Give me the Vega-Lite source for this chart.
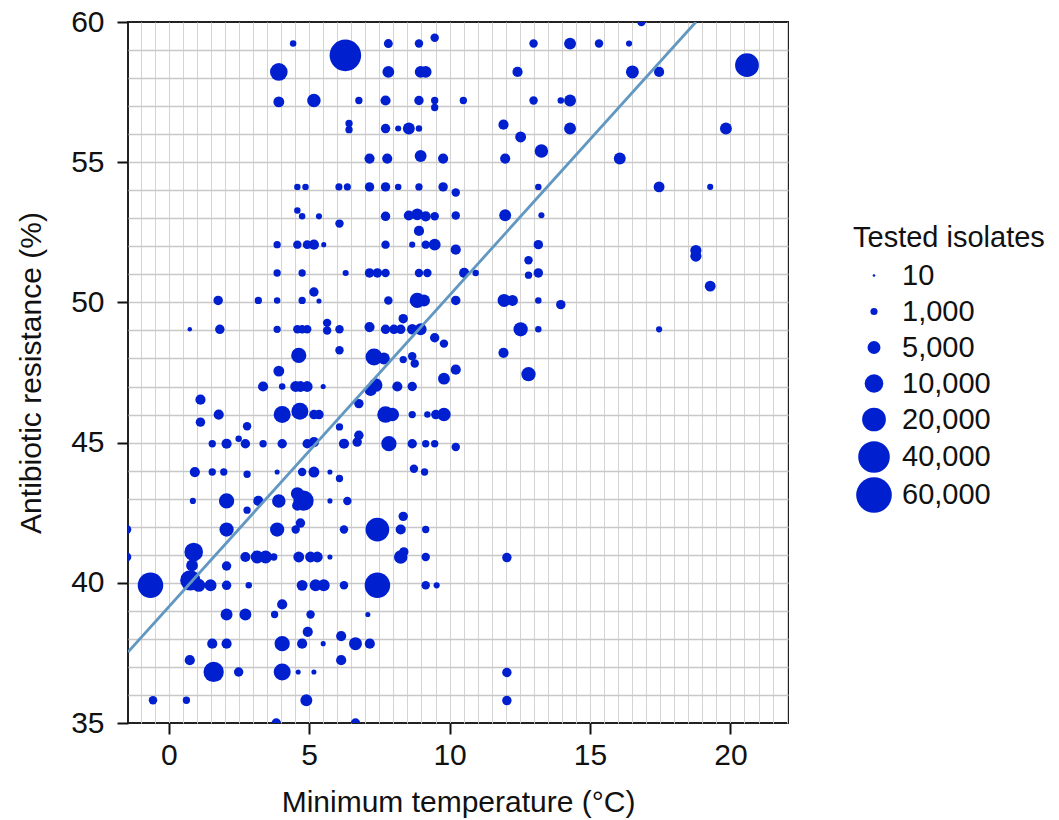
{
  "$schema": "https://vega.github.io/schema/vega-lite/v6.json",
  "width": 660,
  "height": 701,
  "autosize": {"type": "none"},
  "padding": {"left": 128, "top": 22, "right": 271, "bottom": 97},
  "background": "white",
  "config": {
    "font": "Liberation Sans",
    "view": {"stroke": "#222222", "strokeWidth": 2}
  },
  "datasets": {
    "fit": [
      {"temp": -1.45, "resist": 37.53},
      {"temp": 18.77, "resist": 60.0}
    ],
    "pts": [
      {"temp": 4.43, "resist": 59.23, "isolates": 800},
      {"temp": 6.29, "resist": 58.81, "isolates": 40000},
      {"temp": 7.82, "resist": 59.23, "isolates": 2000},
      {"temp": 8.91, "resist": 59.23, "isolates": 1700},
      {"temp": 9.47, "resist": 59.44, "isolates": 1700},
      {"temp": 3.92, "resist": 58.22, "isolates": 9000},
      {"temp": 7.82, "resist": 58.22, "isolates": 4000},
      {"temp": 8.97, "resist": 58.22, "isolates": 4000},
      {"temp": 9.15, "resist": 58.22, "isolates": 4000},
      {"temp": 3.92, "resist": 57.15, "isolates": 3300},
      {"temp": 5.17, "resist": 57.2, "isolates": 5400},
      {"temp": 6.77, "resist": 57.2, "isolates": 1100},
      {"temp": 7.72, "resist": 57.2, "isolates": 2800},
      {"temp": 8.91, "resist": 57.2, "isolates": 2300},
      {"temp": 9.47, "resist": 57.2, "isolates": 1100},
      {"temp": 9.47, "resist": 56.95, "isolates": 1100},
      {"temp": 10.49, "resist": 57.2, "isolates": 1100},
      {"temp": 6.42, "resist": 56.38, "isolates": 1100},
      {"temp": 6.42, "resist": 56.16, "isolates": 1100},
      {"temp": 7.72, "resist": 56.2, "isolates": 2300},
      {"temp": 8.17, "resist": 56.2, "isolates": 700},
      {"temp": 8.55, "resist": 56.2, "isolates": 4100},
      {"temp": 8.91, "resist": 56.2, "isolates": 800},
      {"temp": 7.15, "resist": 55.13, "isolates": 2800},
      {"temp": 7.78, "resist": 55.13, "isolates": 2800},
      {"temp": 8.97, "resist": 55.22, "isolates": 4100},
      {"temp": 9.77, "resist": 55.13, "isolates": 2800},
      {"temp": 4.58, "resist": 54.12, "isolates": 800},
      {"temp": 4.87, "resist": 54.12, "isolates": 800},
      {"temp": 6.06, "resist": 54.12, "isolates": 1000},
      {"temp": 6.36, "resist": 54.12, "isolates": 1000},
      {"temp": 7.15, "resist": 54.12, "isolates": 2300},
      {"temp": 7.72, "resist": 54.12, "isolates": 2300},
      {"temp": 8.17, "resist": 54.12, "isolates": 800},
      {"temp": 8.91, "resist": 54.12, "isolates": 1100},
      {"temp": 9.77, "resist": 54.12, "isolates": 2300},
      {"temp": 10.22, "resist": 53.92, "isolates": 1700},
      {"temp": 4.58, "resist": 53.28, "isolates": 800},
      {"temp": 4.75, "resist": 53.07, "isolates": 800},
      {"temp": 5.35, "resist": 53.07, "isolates": 700},
      {"temp": 6.08, "resist": 52.81, "isolates": 1700},
      {"temp": 7.72, "resist": 53.07, "isolates": 2300},
      {"temp": 8.55, "resist": 53.1, "isolates": 2800},
      {"temp": 8.85, "resist": 53.14, "isolates": 4100},
      {"temp": 9.15, "resist": 53.07, "isolates": 2800},
      {"temp": 9.47, "resist": 53.07, "isolates": 1700},
      {"temp": 8.91, "resist": 52.55, "isolates": 2800},
      {"temp": 10.22, "resist": 53.1, "isolates": 1700},
      {"temp": 3.86, "resist": 52.06, "isolates": 1100},
      {"temp": 4.58, "resist": 52.06, "isolates": 1700},
      {"temp": 4.93, "resist": 52.06, "isolates": 2000},
      {"temp": 5.17, "resist": 52.06, "isolates": 2800},
      {"temp": 5.52, "resist": 52.06, "isolates": 440},
      {"temp": 7.72, "resist": 52.06, "isolates": 1700},
      {"temp": 8.67, "resist": 52.06, "isolates": 700},
      {"temp": 9.15, "resist": 52.06, "isolates": 1700},
      {"temp": 9.47, "resist": 52.06, "isolates": 4100},
      {"temp": 10.22, "resist": 51.88, "isolates": 2800},
      {"temp": 16.83, "resist": 60.0, "isolates": 1700},
      {"temp": 12.99, "resist": 59.23, "isolates": 1700},
      {"temp": 14.29, "resist": 59.23, "isolates": 4100},
      {"temp": 15.32, "resist": 59.23, "isolates": 1700},
      {"temp": 16.39, "resist": 59.23, "isolates": 700},
      {"temp": 20.59, "resist": 58.46, "isolates": 20000},
      {"temp": 12.42, "resist": 58.22, "isolates": 2800},
      {"temp": 16.51, "resist": 58.22, "isolates": 5000},
      {"temp": 17.46, "resist": 58.22, "isolates": 2800},
      {"temp": 12.99, "resist": 57.2, "isolates": 1700},
      {"temp": 13.96, "resist": 57.2, "isolates": 800},
      {"temp": 14.29, "resist": 57.2, "isolates": 4100},
      {"temp": 11.92, "resist": 56.34, "isolates": 2800},
      {"temp": 12.53, "resist": 55.9, "isolates": 3300},
      {"temp": 14.29, "resist": 56.2, "isolates": 4100},
      {"temp": 19.84, "resist": 56.2, "isolates": 4100},
      {"temp": 13.27, "resist": 55.4, "isolates": 5400},
      {"temp": 11.98, "resist": 55.13, "isolates": 2800},
      {"temp": 16.06, "resist": 55.13, "isolates": 4100},
      {"temp": 13.16, "resist": 54.12, "isolates": 800},
      {"temp": 17.46, "resist": 54.12, "isolates": 3300},
      {"temp": 19.28, "resist": 54.12, "isolates": 700},
      {"temp": 11.98, "resist": 53.11, "isolates": 4100},
      {"temp": 13.27, "resist": 53.11, "isolates": 700},
      {"temp": 13.16, "resist": 52.06, "isolates": 2300},
      {"temp": 12.81, "resist": 51.5, "isolates": 1700},
      {"temp": 18.77, "resist": 51.85, "isolates": 3500},
      {"temp": 18.77, "resist": 51.65, "isolates": 3500},
      {"temp": 10.52, "resist": 51.05, "isolates": 2800},
      {"temp": 10.93, "resist": 51.05, "isolates": 800},
      {"temp": 12.81, "resist": 50.97, "isolates": 1100},
      {"temp": 13.16, "resist": 51.05, "isolates": 2300},
      {"temp": 10.22, "resist": 50.07, "isolates": 2300},
      {"temp": 11.94, "resist": 50.07, "isolates": 5000},
      {"temp": 12.24, "resist": 50.07, "isolates": 3300},
      {"temp": 13.16, "resist": 50.07, "isolates": 800},
      {"temp": 13.96, "resist": 49.92, "isolates": 2300},
      {"temp": 19.28, "resist": 50.58, "isolates": 3300},
      {"temp": 12.53, "resist": 49.04, "isolates": 6000},
      {"temp": 13.16, "resist": 49.04, "isolates": 800},
      {"temp": 17.46, "resist": 49.04, "isolates": 700},
      {"temp": 11.92, "resist": 48.2, "isolates": 2800},
      {"temp": 10.22, "resist": 47.6, "isolates": 2800},
      {"temp": 12.81, "resist": 47.44, "isolates": 6000},
      {"temp": 9.8, "resist": 47.28, "isolates": 4100},
      {"temp": 9.8, "resist": 46.0, "isolates": 5400},
      {"temp": 10.22, "resist": 44.84, "isolates": 1700},
      {"temp": 3.86, "resist": 51.05, "isolates": 1100},
      {"temp": 4.75, "resist": 51.05, "isolates": 1100},
      {"temp": 6.3, "resist": 51.05, "isolates": 700},
      {"temp": 7.15, "resist": 51.05, "isolates": 2300},
      {"temp": 7.43, "resist": 51.05, "isolates": 2300},
      {"temp": 7.72, "resist": 51.05, "isolates": 1700},
      {"temp": 8.91, "resist": 51.05, "isolates": 1700},
      {"temp": 9.21, "resist": 51.05, "isolates": 1700},
      {"temp": 1.76, "resist": 50.07, "isolates": 2300},
      {"temp": 3.19, "resist": 50.07, "isolates": 1100},
      {"temp": 3.86, "resist": 50.07, "isolates": 800},
      {"temp": 4.75, "resist": 50.07, "isolates": 1100},
      {"temp": 5.17, "resist": 50.37, "isolates": 2300},
      {"temp": 5.35, "resist": 50.05, "isolates": 440},
      {"temp": 7.82, "resist": 50.07, "isolates": 1700},
      {"temp": 8.85, "resist": 50.07, "isolates": 6800},
      {"temp": 9.09, "resist": 50.07, "isolates": 4100},
      {"temp": 0.75, "resist": 49.04, "isolates": 300},
      {"temp": 1.82, "resist": 49.04, "isolates": 2300},
      {"temp": 3.86, "resist": 49.04, "isolates": 1100},
      {"temp": 4.58, "resist": 49.04, "isolates": 1700},
      {"temp": 4.75, "resist": 49.04, "isolates": 1700},
      {"temp": 4.93, "resist": 49.04, "isolates": 1700},
      {"temp": 5.64, "resist": 49.27, "isolates": 1700},
      {"temp": 5.64, "resist": 49.0, "isolates": 1700},
      {"temp": 6.08, "resist": 49.04, "isolates": 1700},
      {"temp": 7.15, "resist": 49.12, "isolates": 2800},
      {"temp": 7.72, "resist": 49.04, "isolates": 2300},
      {"temp": 8.02, "resist": 49.04, "isolates": 2300},
      {"temp": 8.26, "resist": 49.04, "isolates": 2300},
      {"temp": 8.35, "resist": 49.42, "isolates": 2300},
      {"temp": 8.67, "resist": 49.04, "isolates": 3000},
      {"temp": 8.97, "resist": 49.04, "isolates": 4100},
      {"temp": 9.47, "resist": 48.74, "isolates": 2300},
      {"temp": 9.8, "resist": 48.53, "isolates": 1700},
      {"temp": 4.63, "resist": 48.11, "isolates": 6800},
      {"temp": 6.08, "resist": 48.29, "isolates": 1700},
      {"temp": 7.31, "resist": 48.05, "isolates": 8400},
      {"temp": 7.66, "resist": 48.0, "isolates": 4100},
      {"temp": 8.35, "resist": 47.96, "isolates": 1100},
      {"temp": 8.67, "resist": 48.08, "isolates": 1700},
      {"temp": 8.76, "resist": 47.82, "isolates": 1700},
      {"temp": 3.92, "resist": 47.55, "isolates": 3300},
      {"temp": 3.36, "resist": 47.0, "isolates": 2800},
      {"temp": 4.04, "resist": 47.0, "isolates": 800},
      {"temp": 4.52, "resist": 47.0, "isolates": 3300},
      {"temp": 4.69, "resist": 47.0, "isolates": 3300},
      {"temp": 4.93, "resist": 47.0, "isolates": 3300},
      {"temp": 5.5, "resist": 47.0, "isolates": 440},
      {"temp": 7.19, "resist": 46.87, "isolates": 4100},
      {"temp": 7.37, "resist": 47.05, "isolates": 5400},
      {"temp": 8.14, "resist": 47.0, "isolates": 2800},
      {"temp": 8.67, "resist": 47.0, "isolates": 2300},
      {"temp": 6.77, "resist": 46.39, "isolates": 2300},
      {"temp": 1.13, "resist": 46.53, "isolates": 2800},
      {"temp": 1.13, "resist": 45.73, "isolates": 2300},
      {"temp": 1.78, "resist": 46.0, "isolates": 2800},
      {"temp": 4.04, "resist": 46.0, "isolates": 8400},
      {"temp": 4.67, "resist": 46.12, "isolates": 8400},
      {"temp": 5.17, "resist": 46.0, "isolates": 2300},
      {"temp": 5.35, "resist": 46.0, "isolates": 2300},
      {"temp": 7.72, "resist": 46.0, "isolates": 8000},
      {"temp": 7.96, "resist": 46.0, "isolates": 5400},
      {"temp": 8.67, "resist": 46.0, "isolates": 1100},
      {"temp": 9.21, "resist": 46.0, "isolates": 800},
      {"temp": 9.51, "resist": 46.0, "isolates": 2300},
      {"temp": 2.79, "resist": 45.58, "isolates": 1700},
      {"temp": 6.08, "resist": 45.56, "isolates": 1100},
      {"temp": 1.55, "resist": 44.96, "isolates": 1100},
      {"temp": 2.06, "resist": 44.96, "isolates": 2800},
      {"temp": 2.49, "resist": 45.14, "isolates": 800},
      {"temp": 2.73, "resist": 44.96, "isolates": 2300},
      {"temp": 3.36, "resist": 44.96, "isolates": 1100},
      {"temp": 4.04, "resist": 44.96, "isolates": 2300},
      {"temp": 4.93, "resist": 44.96, "isolates": 2300},
      {"temp": 5.17, "resist": 45.02, "isolates": 2800},
      {"temp": 6.24, "resist": 44.96, "isolates": 2800},
      {"temp": 6.71, "resist": 45.02, "isolates": 2300},
      {"temp": 6.77, "resist": 45.26, "isolates": 2300},
      {"temp": 7.84, "resist": 44.96, "isolates": 6800},
      {"temp": 8.67, "resist": 44.96, "isolates": 2300},
      {"temp": 9.15, "resist": 44.96, "isolates": 1100},
      {"temp": 9.47, "resist": 44.96, "isolates": 1100},
      {"temp": 0.93, "resist": 43.95, "isolates": 2800},
      {"temp": 1.55, "resist": 43.95, "isolates": 1100},
      {"temp": 1.96, "resist": 43.95, "isolates": 1100},
      {"temp": 2.79, "resist": 43.87, "isolates": 1100},
      {"temp": 3.86, "resist": 43.95, "isolates": 440},
      {"temp": 4.75, "resist": 43.95, "isolates": 1700},
      {"temp": 5.17, "resist": 43.95, "isolates": 3300},
      {"temp": 5.74, "resist": 43.95, "isolates": 440},
      {"temp": 6.08, "resist": 43.72, "isolates": 1100},
      {"temp": 8.73, "resist": 44.07, "isolates": 1700},
      {"temp": 9.11, "resist": 43.95, "isolates": 1100},
      {"temp": 0.86, "resist": 42.92, "isolates": 700},
      {"temp": 2.06, "resist": 42.92, "isolates": 6800},
      {"temp": 2.79, "resist": 42.59, "isolates": 1100},
      {"temp": 3.19, "resist": 42.92, "isolates": 2800},
      {"temp": 3.92, "resist": 42.92, "isolates": 5400},
      {"temp": 4.58, "resist": 43.18, "isolates": 5000},
      {"temp": 4.8, "resist": 42.93, "isolates": 13000},
      {"temp": 4.58, "resist": 42.76, "isolates": 3000},
      {"temp": 5.74, "resist": 42.92, "isolates": 440},
      {"temp": 6.36, "resist": 42.92, "isolates": 1700},
      {"temp": 2.06, "resist": 41.9, "isolates": 6000},
      {"temp": 3.86, "resist": 41.9, "isolates": 6000},
      {"temp": 4.52, "resist": 41.9, "isolates": 1700},
      {"temp": 4.69, "resist": 42.13, "isolates": 2300},
      {"temp": 6.24, "resist": 41.9, "isolates": 1700},
      {"temp": 7.43, "resist": 41.9, "isolates": 20000},
      {"temp": 8.26, "resist": 41.9, "isolates": 2800},
      {"temp": 8.35, "resist": 42.37, "isolates": 2300},
      {"temp": 9.15, "resist": 41.9, "isolates": 1100},
      {"temp": 0.89, "resist": 41.1, "isolates": 10000},
      {"temp": 0.83, "resist": 40.62, "isolates": 4000},
      {"temp": 2.06, "resist": 40.6, "isolates": 2300},
      {"temp": 2.73, "resist": 40.92, "isolates": 2800},
      {"temp": 3.15, "resist": 40.92, "isolates": 5000},
      {"temp": 3.45, "resist": 40.92, "isolates": 5000},
      {"temp": 3.74, "resist": 40.92, "isolates": 1100},
      {"temp": 4.63, "resist": 40.92, "isolates": 3300},
      {"temp": 5.05, "resist": 40.92, "isolates": 3300},
      {"temp": 5.29, "resist": 40.92, "isolates": 3300},
      {"temp": 5.74, "resist": 40.92, "isolates": 440},
      {"temp": 8.26, "resist": 40.92, "isolates": 5400},
      {"temp": 8.37, "resist": 41.1, "isolates": 2300},
      {"temp": 9.15, "resist": 40.92, "isolates": 1700},
      {"temp": -0.65, "resist": 39.91, "isolates": 24000},
      {"temp": 0.77, "resist": 40.09, "isolates": 13000},
      {"temp": 1.07, "resist": 39.91, "isolates": 5000},
      {"temp": 1.49, "resist": 39.91, "isolates": 4100},
      {"temp": 2.06, "resist": 39.91, "isolates": 2300},
      {"temp": 2.85, "resist": 39.91, "isolates": 800},
      {"temp": 4.75, "resist": 39.91, "isolates": 3300},
      {"temp": 5.23, "resist": 39.91, "isolates": 4100},
      {"temp": 5.52, "resist": 39.91, "isolates": 4100},
      {"temp": 6.24, "resist": 39.91, "isolates": 1700},
      {"temp": 7.43, "resist": 39.91, "isolates": 24000},
      {"temp": 9.15, "resist": 39.91, "isolates": 1700},
      {"temp": 9.54, "resist": 39.91, "isolates": 700},
      {"temp": 4.04, "resist": 39.23, "isolates": 2800},
      {"temp": 2.06, "resist": 38.87, "isolates": 4100},
      {"temp": 2.73, "resist": 38.87, "isolates": 4100},
      {"temp": 3.77, "resist": 38.87, "isolates": 1100},
      {"temp": 5.05, "resist": 38.87, "isolates": 1700},
      {"temp": 7.09, "resist": 38.87, "isolates": 440},
      {"temp": 1.55, "resist": 37.83, "isolates": 2800},
      {"temp": 2.06, "resist": 37.83, "isolates": 2800},
      {"temp": 4.04, "resist": 37.83, "isolates": 6800},
      {"temp": 4.75, "resist": 37.83, "isolates": 2800},
      {"temp": 4.95, "resist": 38.25, "isolates": 2800},
      {"temp": 5.5, "resist": 37.83, "isolates": 440},
      {"temp": 6.14, "resist": 38.1, "isolates": 2800},
      {"temp": 6.65, "resist": 37.83, "isolates": 5000},
      {"temp": 7.16, "resist": 37.83, "isolates": 2800},
      {"temp": 0.75, "resist": 37.24, "isolates": 2800},
      {"temp": 6.14, "resist": 37.24, "isolates": 2800},
      {"temp": 1.6, "resist": 36.82, "isolates": 13000},
      {"temp": 2.49, "resist": 36.82, "isolates": 2300},
      {"temp": 4.04, "resist": 36.82, "isolates": 8400},
      {"temp": 4.61, "resist": 36.82, "isolates": 440},
      {"temp": 5.17, "resist": 36.82, "isolates": 440},
      {"temp": -0.56, "resist": 35.81, "isolates": 1700},
      {"temp": 0.63, "resist": 35.81, "isolates": 1100},
      {"temp": 4.9, "resist": 35.81, "isolates": 4100},
      {"temp": 3.83, "resist": 35.0, "isolates": 2300},
      {"temp": 6.65, "resist": 35.0, "isolates": 2300},
      {"temp": 12.04, "resist": 40.9, "isolates": 2300},
      {"temp": 12.04, "resist": 36.8, "isolates": 2300},
      {"temp": 12.04, "resist": 35.8, "isolates": 2300},
      {"temp": -1.5, "resist": 41.9, "isolates": 2300},
      {"temp": -1.5, "resist": 40.92, "isolates": 2300}
    ]
  },
  "layer": [
    {
      "data": {"name": "pts"},
      "mark": {"type": "circle", "color": "#0020d0", "opacity": 1, "clip": true},
      "encoding": {
        "x": {
          "field": "temp", "type": "quantitative",
          "scale": {"domain": [-1.45, 22.05], "nice": false, "zero": false},
          "axis": {
            "orient": "bottom", "values": [0, 5, 10, 15, 20], "grid": false, "domain": false,
            "tickColor": "#111111", "tickSize": 11, "tickWidth": 2,
            "labelFontSize": 30, "labelColor": "#111111", "labelPadding": 6,
            "title": "Minimum temperature (°C)", "titleFontSize": 30, "titleFontWeight": "normal",
            "titleColor": "#111111", "titleBaseline": "alphabetic", "titleY": 88
          }
        },
        "y": {
          "field": "resist", "type": "quantitative",
          "scale": {"domain": [35, 60], "nice": false, "zero": false},
          "axis": {
            "orient": "left", "values": [35, 40, 45, 50, 55, 60], "grid": false, "domain": false,
            "tickColor": "#111111", "tickSize": 11, "tickWidth": 2,
            "labelFontSize": 30, "labelColor": "#111111", "labelPadding": 13,
            "title": "Antibiotic resistance (%)", "titleFontSize": 30, "titleFontWeight": "normal",
            "titleColor": "#111111", "titleBaseline": "alphabetic", "titleX": -88
          }
        },
        "size": {
          "field": "isolates", "type": "quantitative",
          "scale": {"type": "linear", "domain": [10, 1000, 5000, 10000, 20000, 40000, 60000], "range": [7, 51, 168, 347, 563, 998, 1272]},
          "legend": {
            "title": "Tested isolates", "values": [10, 1000, 5000, 10000, 20000, 40000, 60000],
            "labelExpr": "format(datum.value, ',')",
            "orient": "none", "legendX": 725, "legendY": 202,
            "titleFontSize": 29, "titleFontWeight": "normal", "titleColor": "#111111", "titlePadding": 8, "titleLimit": 400,
            "labelFontSize": 29, "labelColor": "#111111", "labelOffset": 10, "labelLimit": 300,
            "symbolOffset": 3,
            "gridAlign": "all", "rowPadding": 0, "symbolStrokeWidth": 0
          }
        }
      }
    },
    {
      "data": {"name": "fit"},
      "mark": {"type": "line", "color": "#6197c0", "strokeWidth": 2.8, "clip": true},
      "encoding": {
        "x": {
          "field": "temp", "type": "quantitative",
          "axis": {
            "orient": "top", "values": [-1, -0.5, 0, 0.5, 1, 1.5, 2, 2.5, 3, 3.5, 4, 4.5, 5, 5.5, 6, 6.5, 7, 7.5, 8, 8.5, 9, 9.5, 10, 10.5, 11, 11.5, 12, 12.5, 13, 13.5, 14, 14.5, 15, 15.5, 16, 16.5, 17, 17.5, 18, 18.5, 19, 19.5, 20, 20.5, 21, 21.5, 22],
            "grid": true, "gridColor": "#d4d4d4", "gridWidth": 1, "labels": false, "ticks": false, "domain": false, "title": null
          }
        },
        "y": {
          "field": "resist", "type": "quantitative",
          "axis": {
            "orient": "right", "values": [36, 37, 38, 39, 40, 41, 42, 43, 44, 45, 46, 47, 48, 49, 50, 51, 52, 53, 54, 55, 56, 57, 58, 59],
            "grid": true, "gridColor": "#c8c8c8", "gridWidth": 1.3, "labels": false, "ticks": false, "domain": false, "title": null
          }
        }
      }
    }
  ],
  "resolve": {"axis": {"x": "independent", "y": "independent"}}
}
